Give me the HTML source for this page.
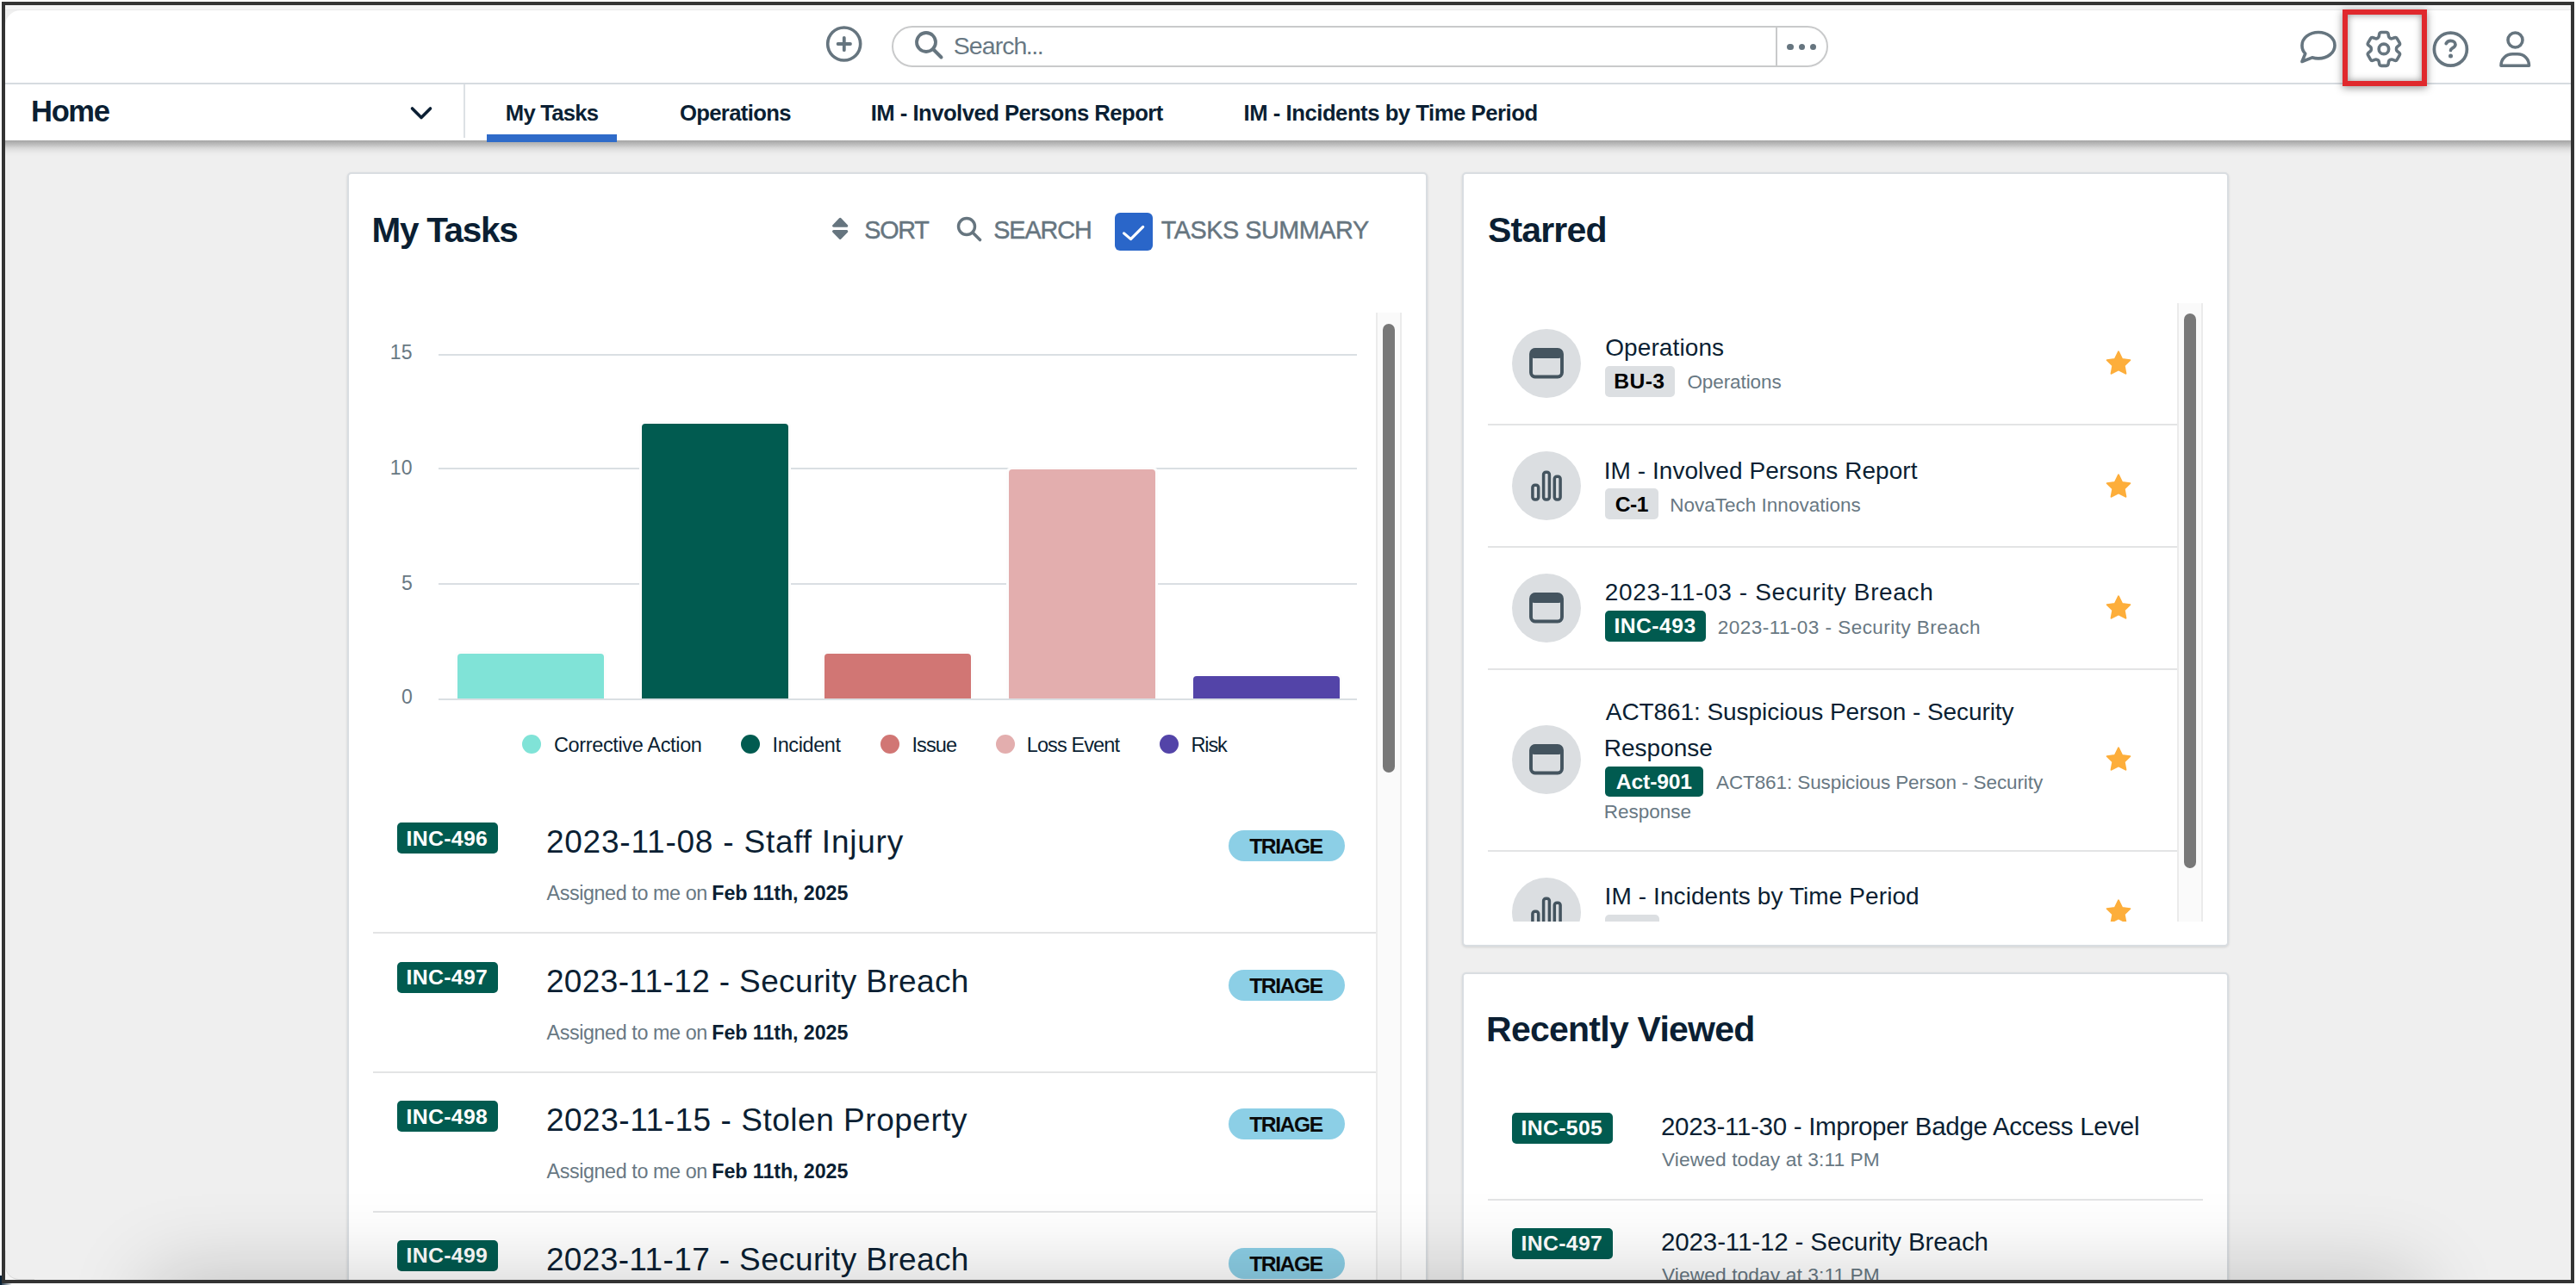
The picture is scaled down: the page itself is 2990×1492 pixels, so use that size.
<!DOCTYPE html><html><head><meta charset="utf-8"><style>
html,body{margin:0;padding:0}
body{width:2990px;height:1492px;position:relative;overflow:hidden;background:#fff;font-family:"Liberation Sans",sans-serif}
.t{position:absolute;line-height:1;white-space:nowrap}
.r{position:absolute;box-sizing:border-box}
svg{position:absolute;overflow:visible}
</style></head><body>
<div class="r" style="left:6.0px;top:6.0px;width:2978.0px;height:1480.0px;background:#efefef"></div>
<div class="r" style="left:6.0px;top:6.0px;width:2978.0px;height:6.0px;background:#f4f4f5"></div>
<div class="r" style="left:6.0px;top:11.0px;width:2978.0px;height:1.0px;background:#e9e9ea"></div>
<div class="r" style="left:6.0px;top:12.0px;width:2978.0px;height:85.0px;background:#fff;border-top-left-radius:18px"></div>
<div class="r" style="left:6.0px;top:98.0px;width:2978.0px;height:64.5px;background:#fff"></div>
<div class="r" style="left:6.0px;top:162.5px;width:2978.0px;height:19.5px;background:linear-gradient(to bottom, rgba(0,0,0,.31) 0%, rgba(0,0,0,.26) 13%, rgba(0,0,0,.19) 29%, rgba(0,0,0,.105) 45%, rgba(0,0,0,.05) 61%, rgba(0,0,0,.017) 79%, rgba(0,0,0,0) 100%)"></div>
<div class="r" style="left:6.0px;top:96.0px;width:2978.0px;height:2.0px;background:#d6dbe0"></div>
<div class="r" style="left:538.0px;top:98.0px;width:2.0px;height:62.0px;background:#dde1e5"></div>
<svg style="left:959px;top:30px" width="42" height="42" viewBox="0 0 42 42"><circle cx="20.7" cy="21" r="19" fill="none" stroke="#66757f" stroke-width="3.6"/><path d="M20.8 13.8v14.4M13.6 21h14.4" stroke="#66757f" stroke-width="3.8" stroke-linecap="round"/></svg>
<div class="r" style="left:1035.2px;top:29.9px;width:1086.8px;height:47.7px;border:2px solid #c9cacb;border-radius:24px;background:#fff"></div>
<div class="r" style="left:2061.0px;top:31.0px;width:2.0px;height:46.0px;background:#c9cacb"></div>
<svg style="left:1061px;top:35px" width="36" height="34" viewBox="0 0 36 34"><circle cx="14" cy="14" r="11" fill="none" stroke="#66757f" stroke-width="3.8"/><path d="M22 22l9.5 9.5" stroke="#66757f" stroke-width="4" stroke-linecap="round"/></svg>
<div class="t" style="left:1106.8px;top:39px;font-size:28.5px;color:#687883;letter-spacing:-0.94px;">Search</div>
<div class="t" style="left:1190.8px;top:39px;font-size:28.5px;color:#687883;letter-spacing:-1.40px;">...</div>
<div class="r" style="left:2074.2px;top:50.5px;width:7.6px;height:7.6px;border-radius:50%;background:#66757f"></div>
<div class="r" style="left:2087.5px;top:50.5px;width:7.6px;height:7.6px;border-radius:50%;background:#66757f"></div>
<div class="r" style="left:2100.5px;top:50.5px;width:7.6px;height:7.6px;border-radius:50%;background:#66757f"></div>
<svg style="left:2668px;top:34px" width="46" height="42" viewBox="0 0 46 42"><path d="M23 3.5c10.5 0 19 6.6 19 15.2s-8.5 15.2-19 15.2c-2.6 0-5-.4-7.3-1.1L4 37.5l3.8-9.3C5 25.6 4 22.3 4 18.7 4 10.1 12.5 3.5 23 3.5z" fill="none" stroke="#66757f" stroke-width="3.6" stroke-linejoin="round"/></svg>
<svg style="left:2740.6px;top:31.4px" width="51.84" height="51.84" viewBox="0 0 24 24"><path d="M9.594 3.94c.09-.542.56-.94 1.11-.94h2.593c.55 0 1.02.398 1.11.94l.213 1.281c.063.374.313.686.645.87.074.04.147.083.22.127.325.196.72.257 1.075.124l1.217-.456a1.125 1.125 0 0 1 1.37.49l1.296 2.247a1.125 1.125 0 0 1-.26 1.431l-1.003.827c-.293.241-.438.613-.43.992a7.723 7.723 0 0 1 0 .255c-.008.378.137.75.43.991l1.004.827c.424.35.534.955.26 1.43l-1.298 2.247a1.125 1.125 0 0 1-1.369.491l-1.217-.456c-.355-.133-.75-.072-1.076.124a6.470 6.470 0 0 1-.22.128c-.331.183-.581.495-.644.869l-.213 1.281c-.09.543-.56.94-1.110.94h-2.594c-.55 0-1.019-.398-1.11-.94l-.213-1.281c-.062-.374-.312-.686-.644-.87a6.520 6.520 0 0 1-.22-.127c-.325-.196-.72-.257-1.076-.124l-1.217.456a1.125 1.125 0 0 1-1.369-.49l-1.297-2.247a1.125 1.125 0 0 1 .26-1.431l1.004-.827c.292-.24.437-.613.43-.991a6.932 6.932 0 0 1 0-.255c.007-.38-.138-.751-.43-.992l-1.004-.827a1.125 1.125 0 0 1-.26-1.43l1.297-2.247a1.125 1.125 0 0 1 1.37-.491l1.216.456c.356.133.751.072 1.076-.124.072-.044.146-.086.22-.128.332-.183.582-.495.644-.869l.214-1.28Z" fill="none" stroke="#66757f" stroke-width="1.65" stroke-linejoin="round"/><circle cx="12" cy="12" r="2.65" fill="none" stroke="#66757f" stroke-width="1.7"/></svg>
<svg style="left:2823px;top:36px" width="43" height="43" viewBox="0 0 43 43"><circle cx="21.4" cy="21.2" r="19" fill="none" stroke="#66757f" stroke-width="3.7"/><path d="M16.2 14.6c.9-1.9 2.8-3.2 5.4-3.2 3.1 0 5.4 1.8 5.4 4.3 0 2.1-1.5 3.1-3.4 4.2-1.3.8-2.1 1.4-2.1 2.6" fill="none" stroke="#66757f" stroke-width="3.7" stroke-linecap="round" stroke-linejoin="round"/><circle cx="21.5" cy="29.1" r="2.5" fill="#66757f"/></svg>
<svg style="left:2900px;top:36px" width="40" height="43" viewBox="0 0 40 43"><circle cx="19.5" cy="10.5" r="8.5" fill="none" stroke="#66757f" stroke-width="3.6"/><path d="M3 40.3c0-8.2 6-13.5 13.5-13.5h5.5c7.5 0 13.5 5.3 13.5 13.5z" fill="none" stroke="#66757f" stroke-width="3.6" stroke-linejoin="round"/></svg>
<div class="r" style="left:2719.0px;top:11.0px;width:98.0px;height:88.5px;border:6px solid #e0292d;box-shadow:0 2px 9px rgba(0,0,0,0.42), inset 0 0 9px rgba(0,0,0,0.42)"></div>
<div class="t" style="left:36.1px;top:112px;font-size:34.5px;color:#0b1f33;font-weight:700;letter-spacing:-1.37px;">Home</div>
<svg style="left:476px;top:123px" width="26" height="17" viewBox="0 0 26 17"><path d="M2.5 3l10.5 10.5L23.5 3" fill="none" stroke="#0b1f33" stroke-width="3.6" stroke-linecap="round" stroke-linejoin="round"/></svg>
<div class="t" style="left:586.8px;top:119px;font-size:25.7px;color:#0b1f33;font-weight:700;letter-spacing:-0.80px;">My Tasks</div>
<div class="r" style="left:565.0px;top:156.0px;width:151.0px;height:8.5px;background:#2f6bc9"></div>
<div class="t" style="left:788.9px;top:119px;font-size:25.7px;color:#0b1f33;font-weight:700;letter-spacing:-0.67px;">Operations</div>
<div class="t" style="left:1010.7px;top:119px;font-size:25.7px;color:#0b1f33;font-weight:700;letter-spacing:-0.53px;">IM - Involved Persons Report</div>
<div class="t" style="left:1443.6px;top:119px;font-size:25.7px;color:#0b1f33;font-weight:700;letter-spacing:-0.48px;">IM - Incidents by Time Period</div>
<div class="r" style="left:403.0px;top:200.0px;width:1254.0px;height:1400.0px;background:#fff;border:2px solid #d9dde1;border-radius:5px;box-shadow:0 1px 3px rgba(0,0,0,0.12)"></div>
<div class="t" style="left:431.5px;top:247px;font-size:40.5px;color:#0b1f33;font-weight:700;letter-spacing:-1.29px;">My Tasks</div>
<svg style="left:960px;top:240px" width="40" height="50" viewBox="0 0 40 50"><path d="M15.2 14.3L7.6 22.2H22.8z M7.6 28.6H22.8L15.2 36.5z" fill="#66757f" stroke="#66757f" stroke-width="3" stroke-linejoin="round"/></svg>
<div class="t" style="left:1003.2px;top:253px;font-size:28.75px;color:#66757f;letter-spacing:-1.23px;-webkit-text-stroke:0.45px #66757f;">SORT</div>
<svg style="left:1110px;top:251px" width="31" height="30" viewBox="0 0 31 30"><circle cx="12" cy="12" r="9.5" fill="none" stroke="#66757f" stroke-width="3.4"/><path d="M19 19l8.5 8.5" stroke="#66757f" stroke-width="3.6" stroke-linecap="round"/></svg>
<div class="t" style="left:1153.2px;top:253px;font-size:28.75px;color:#66757f;letter-spacing:-1.04px;-webkit-text-stroke:0.45px #66757f;">SEARCH</div>
<div class="r" style="left:1294.0px;top:247.0px;width:44.0px;height:44.0px;background:#2a66c9;border-radius:6px"></div>
<svg style="left:1294px;top:247px" width="44" height="44" viewBox="0 0 44 44"><path d="M10.6 23.9L18.5 30.6L32.7 16.4" fill="none" stroke="#fff" stroke-width="3.2" stroke-linecap="round" stroke-linejoin="round"/></svg>
<div class="t" style="left:1347.7px;top:253px;font-size:28.75px;color:#66757f;letter-spacing:-0.43px;-webkit-text-stroke:0.45px #66757f;">TASKS SUMMARY</div>
<div class="r" style="left:509.0px;top:411.0px;width:1066.0px;height:2.0px;background:#dadfe3"></div>
<div class="t" style="left:452.8px;top:398px;font-size:23px;color:#687883;letter-spacing:0.10px;">15</div>
<div class="r" style="left:509.0px;top:543.1px;width:1066.0px;height:2.0px;background:#dadfe3"></div>
<div class="t" style="left:452.8px;top:532px;font-size:23px;color:#687883;letter-spacing:0.10px;">10</div>
<div class="r" style="left:509.0px;top:677.0px;width:1066.0px;height:2.0px;background:#dadfe3"></div>
<div class="t" style="left:465.9px;top:666px;font-size:23px;color:#687883;">5</div>
<div class="r" style="left:509.0px;top:811.0px;width:1066.0px;height:2.0px;background:#dadfe3"></div>
<div class="t" style="left:465.9px;top:798px;font-size:23px;color:#687883;">0</div>
<div class="r" style="left:528.0px;top:755.7px;width:176.0px;height:55.3px;background:#fdfdfd;border-radius:6px 6px 0 0"></div>
<div class="r" style="left:531.0px;top:758.7px;width:170.0px;height:52.3px;background:#80e3d7;border-radius:4px 4px 0 0"></div>
<div class="r" style="left:742.0px;top:489.0px;width:176.0px;height:322.0px;background:#fdfdfd;border-radius:6px 6px 0 0"></div>
<div class="r" style="left:745.0px;top:492.0px;width:170.0px;height:319.0px;background:#015b50;border-radius:4px 4px 0 0"></div>
<div class="r" style="left:954.0px;top:755.7px;width:176.0px;height:55.3px;background:#fdfdfd;border-radius:6px 6px 0 0"></div>
<div class="r" style="left:957.0px;top:758.7px;width:170.0px;height:52.3px;background:#d17674;border-radius:4px 4px 0 0"></div>
<div class="r" style="left:1168.0px;top:542.3px;width:176.0px;height:268.7px;background:#fdfdfd;border-radius:6px 6px 0 0"></div>
<div class="r" style="left:1171.0px;top:545.3px;width:170.0px;height:265.7px;background:#e3aeae;border-radius:4px 4px 0 0"></div>
<div class="r" style="left:1382.0px;top:782.3px;width:176.0px;height:28.7px;background:#fdfdfd;border-radius:6px 6px 0 0"></div>
<div class="r" style="left:1385.0px;top:785.3px;width:170.0px;height:25.7px;background:#5344a8;border-radius:4px 4px 0 0"></div>
<div class="r" style="left:605.9px;top:852.8px;width:22.0px;height:22.0px;border-radius:50%;background:#80e3d7"></div>
<div class="t" style="left:642.9px;top:854px;font-size:23.5px;color:#0b1f33;letter-spacing:-0.35px;">Corrective Action</div>
<div class="r" style="left:860.1px;top:852.8px;width:22.0px;height:22.0px;border-radius:50%;background:#015b50"></div>
<div class="t" style="left:896.6px;top:854px;font-size:23.5px;color:#0b1f33;letter-spacing:-0.41px;">Incident</div>
<div class="r" style="left:1022.0px;top:852.8px;width:22.0px;height:22.0px;border-radius:50%;background:#d17674"></div>
<div class="t" style="left:1058.4px;top:854px;font-size:23.5px;color:#0b1f33;letter-spacing:-0.85px;">Issue</div>
<div class="r" style="left:1155.5px;top:852.8px;width:22.0px;height:22.0px;border-radius:50%;background:#e3aeae"></div>
<div class="t" style="left:1191.7px;top:854px;font-size:23.5px;color:#0b1f33;letter-spacing:-0.88px;">Loss Event</div>
<div class="r" style="left:1346.0px;top:852.8px;width:22.0px;height:22.0px;border-radius:50%;background:#5344a8"></div>
<div class="t" style="left:1382.4px;top:854px;font-size:23.5px;color:#0b1f33;letter-spacing:-1.07px;">Risk</div>
<div class="r" style="left:461.0px;top:955.0px;width:117.0px;height:36.0px;background:#015b50;border-radius:5px"></div>
<div class="t" style="left:471.5px;top:962px;font-size:24.8px;color:#fff;font-weight:700;letter-spacing:0.33px;">INC-496</div>
<div class="t" style="left:633.9px;top:959px;font-size:37px;color:#0b1f33;letter-spacing:0.78px;">2023-11-08 - Staff Injury</div>
<div class="t" style="left:634.5px;top:1026px;font-size:23.3px;color:#687883;letter-spacing:-0.39px;">Assigned to me on</div>
<div class="t" style="left:826.3px;top:1026px;font-size:23.3px;color:#0b1f33;font-weight:700;letter-spacing:-0.09px;">Feb 11th, 2025</div>
<div class="r" style="left:1426.0px;top:964.2px;width:135.0px;height:36.0px;border-radius:18px;background:#8ccfe6"></div>
<div class="t" style="left:1450.2px;top:971px;font-size:24.6px;color:#0a0a0a;font-weight:700;letter-spacing:-1.40px;">TRIAGE</div>
<div class="r" style="left:433.0px;top:1081.5px;width:1164.0px;height:2.0px;background:#e3e4e5"></div>
<div class="r" style="left:461.0px;top:1116.6px;width:117.0px;height:36.0px;background:#015b50;border-radius:5px"></div>
<div class="t" style="left:471.5px;top:1123px;font-size:24.8px;color:#fff;font-weight:700;letter-spacing:0.33px;">INC-497</div>
<div class="t" style="left:633.9px;top:1121px;font-size:37px;color:#0b1f33;letter-spacing:0.37px;">2023-11-12 - Security Breach</div>
<div class="t" style="left:634.5px;top:1188px;font-size:23.3px;color:#687883;letter-spacing:-0.39px;">Assigned to me on</div>
<div class="t" style="left:826.3px;top:1188px;font-size:23.3px;color:#0b1f33;font-weight:700;letter-spacing:-0.09px;">Feb 11th, 2025</div>
<div class="r" style="left:1426.0px;top:1125.8px;width:135.0px;height:36.0px;border-radius:18px;background:#8ccfe6"></div>
<div class="t" style="left:1450.2px;top:1133px;font-size:24.6px;color:#0a0a0a;font-weight:700;letter-spacing:-1.40px;">TRIAGE</div>
<div class="r" style="left:433.0px;top:1243.6px;width:1164.0px;height:2.0px;background:#e3e4e5"></div>
<div class="r" style="left:461.0px;top:1278.2px;width:117.0px;height:36.0px;background:#015b50;border-radius:5px"></div>
<div class="t" style="left:471.5px;top:1285px;font-size:24.8px;color:#fff;font-weight:700;letter-spacing:0.33px;">INC-498</div>
<div class="t" style="left:633.9px;top:1282px;font-size:37px;color:#0b1f33;letter-spacing:0.53px;">2023-11-15 - Stolen Property</div>
<div class="t" style="left:634.5px;top:1349px;font-size:23.3px;color:#687883;letter-spacing:-0.39px;">Assigned to me on</div>
<div class="t" style="left:826.3px;top:1349px;font-size:23.3px;color:#0b1f33;font-weight:700;letter-spacing:-0.09px;">Feb 11th, 2025</div>
<div class="r" style="left:1426.0px;top:1287.4px;width:135.0px;height:36.0px;border-radius:18px;background:#8ccfe6"></div>
<div class="t" style="left:1450.2px;top:1294px;font-size:24.6px;color:#0a0a0a;font-weight:700;letter-spacing:-1.40px;">TRIAGE</div>
<div class="r" style="left:433.0px;top:1405.7px;width:1164.0px;height:2.0px;background:#e3e4e5"></div>
<div class="r" style="left:461.0px;top:1439.8px;width:117.0px;height:36.0px;background:#015b50;border-radius:5px"></div>
<div class="t" style="left:471.5px;top:1446px;font-size:24.8px;color:#fff;font-weight:700;letter-spacing:0.33px;">INC-499</div>
<div class="t" style="left:633.9px;top:1444px;font-size:37px;color:#0b1f33;letter-spacing:0.37px;">2023-11-17 - Security Breach</div>
<div class="t" style="left:634.5px;top:1511px;font-size:23.3px;color:#687883;letter-spacing:-0.39px;">Assigned to me on</div>
<div class="t" style="left:826.3px;top:1511px;font-size:23.3px;color:#0b1f33;font-weight:700;letter-spacing:-0.09px;">Feb 11th, 2025</div>
<div class="r" style="left:1426.0px;top:1449.0px;width:135.0px;height:36.0px;border-radius:18px;background:#8ccfe6"></div>
<div class="t" style="left:1450.2px;top:1456px;font-size:24.6px;color:#0a0a0a;font-weight:700;letter-spacing:-1.40px;">TRIAGE</div>
<div class="r" style="left:433.0px;top:1567.8px;width:1164.0px;height:2.0px;background:#e3e4e5"></div>
<div class="r" style="left:1597.0px;top:362.7px;width:30.0px;height:1123.3px;background:#fafafa;border-left:2px solid #ebebeb;border-right:2px solid #ebebeb"></div>
<div class="r" style="left:1604.6px;top:375.5px;width:14.0px;height:521.5px;background:#787878;border-radius:7px"></div>
<div class="r" style="left:1697.0px;top:200.0px;width:890.0px;height:899.0px;background:#fff;border:2px solid #d9dde1;border-radius:5px;box-shadow:0 1px 3px rgba(0,0,0,0.12)"></div>
<div class="t" style="left:1727.1px;top:247px;font-size:41px;color:#0b1f33;font-weight:700;letter-spacing:-0.87px;">Starred</div>
<div class="r" style="left:0;top:0;width:2990px;height:1070px;overflow:hidden">
<div class="r" style="left:1755.0px;top:382.0px;width:80.0px;height:80.0px;border-radius:50%;background:#dbdee1"></div>
<svg style="left:1775px;top:404.0px" width="40" height="36" viewBox="0 0 40 36"><rect x="2" y="2" width="36" height="31.5" rx="5" fill="none" stroke="#44545f" stroke-width="3.9"/><rect x="2" y="2" width="36" height="10" rx="4" fill="#44545f"/></svg>
<div class="t" style="left:1863.2px;top:390px;font-size:28px;color:#0b1f33;letter-spacing:0.10px;">Operations</div>
<div class="r" style="left:1863.0px;top:424.8px;width:80.8px;height:35.9px;background:#dcdfe2;border-radius:5px"></div>
<div class="t" style="left:1873.2px;top:431px;font-size:24.7px;color:#000;font-weight:700;letter-spacing:0.43px;">BU-3</div>
<div class="t" style="left:1958.4px;top:433px;font-size:22.5px;color:#687883;letter-spacing:-0.09px;">Operations</div>
<svg style="left:2442.5px;top:405.5px" width="32" height="32" viewBox="0 0 24 24"><path d="M12 1.8l3.1 6.4 6.9.9-5 4.8 1.3 6.9L12 17.5l-6.3 3.3L7 13.9 2 9.1l6.9-.9z" fill="#fdae3b" stroke="#fdae3b" stroke-width="1.5" stroke-linejoin="round"/></svg>
<div class="r" style="left:1727.0px;top:492.0px;width:800.0px;height:2.0px;background:#e3e4e5"></div>
<div class="r" style="left:1755.0px;top:523.8px;width:80.0px;height:80.0px;border-radius:50%;background:#dbdee1"></div>
<svg style="left:1776px;top:544.8px" width="38" height="38" viewBox="0 0 38 38"><rect x="2.9" y="18.2" width="6.8" height="16.8" rx="2.8" fill="none" stroke="#44545f" stroke-width="3.5"/><rect x="15.6" y="3.2" width="6.8" height="31.8" rx="2.8" fill="none" stroke="#44545f" stroke-width="3.5"/><rect x="28.3" y="8.2" width="6.8" height="26.8" rx="2.8" fill="none" stroke="#44545f" stroke-width="3.5"/></svg>
<div class="t" style="left:1861.8px;top:533px;font-size:28px;color:#0b1f33;letter-spacing:0.04px;">IM - Involved Persons Report</div>
<div class="r" style="left:1863.0px;top:567.4px;width:62.4px;height:35.2px;background:#dcdfe2;border-radius:5px"></div>
<div class="t" style="left:1874.8px;top:574px;font-size:24.7px;color:#000;font-weight:700;letter-spacing:-0.57px;">C-1</div>
<div class="t" style="left:1938.3px;top:576px;font-size:22.5px;color:#687883;">NovaTech Innovations</div>
<svg style="left:2442.5px;top:548.5px" width="32" height="32" viewBox="0 0 24 24"><path d="M12 1.8l3.1 6.4 6.9.9-5 4.8 1.3 6.9L12 17.5l-6.3 3.3L7 13.9 2 9.1l6.9-.9z" fill="#fdae3b" stroke="#fdae3b" stroke-width="1.5" stroke-linejoin="round"/></svg>
<div class="r" style="left:1727.0px;top:634.0px;width:800.0px;height:2.0px;background:#e3e4e5"></div>
<div class="r" style="left:1755.0px;top:665.8px;width:80.0px;height:80.0px;border-radius:50%;background:#dbdee1"></div>
<svg style="left:1775px;top:687.8px" width="40" height="36" viewBox="0 0 40 36"><rect x="2" y="2" width="36" height="31.5" rx="5" fill="none" stroke="#44545f" stroke-width="3.9"/><rect x="2" y="2" width="36" height="10" rx="4" fill="#44545f"/></svg>
<div class="t" style="left:1862.8px;top:674px;font-size:28px;color:#0b1f33;letter-spacing:0.64px;">2023-11-03 - Security Breach</div>
<div class="r" style="left:1863.0px;top:709.2px;width:116.7px;height:35.5px;background:#015b50;border-radius:5px"></div>
<div class="t" style="left:1873.4px;top:715px;font-size:24.7px;color:#fff;font-weight:700;letter-spacing:0.47px;">INC-493</div>
<div class="t" style="left:1993.8px;top:718px;font-size:22.5px;color:#687883;letter-spacing:0.46px;">2023-11-03 - Security Breach</div>
<svg style="left:2442.5px;top:690.0px" width="32" height="32" viewBox="0 0 24 24"><path d="M12 1.8l3.1 6.4 6.9.9-5 4.8 1.3 6.9L12 17.5l-6.3 3.3L7 13.9 2 9.1l6.9-.9z" fill="#fdae3b" stroke="#fdae3b" stroke-width="1.5" stroke-linejoin="round"/></svg>
<div class="r" style="left:1727.0px;top:775.5px;width:800.0px;height:2.0px;background:#e3e4e5"></div>
<div class="r" style="left:1755.0px;top:842.0px;width:80.0px;height:80.0px;border-radius:50%;background:#dbdee1"></div>
<svg style="left:1775px;top:864.0px" width="40" height="36" viewBox="0 0 40 36"><rect x="2" y="2" width="36" height="31.5" rx="5" fill="none" stroke="#44545f" stroke-width="3.9"/><rect x="2" y="2" width="36" height="10" rx="4" fill="#44545f"/></svg>
<div class="t" style="left:1863.8px;top:813px;font-size:28px;color:#0b1f33;letter-spacing:-0.07px;">ACT861: Suspicious Person - Security</div>
<div class="t" style="left:1861.8px;top:855px;font-size:28px;color:#0b1f33;">Response</div>
<div class="r" style="left:1863.0px;top:890.2px;width:113.8px;height:35.2px;background:#015b50;border-radius:5px"></div>
<div class="t" style="left:1875.8px;top:896px;font-size:24.7px;color:#fff;font-weight:700;letter-spacing:-0.15px;">Act-901</div>
<div class="t" style="left:1992.0px;top:898px;font-size:22.5px;color:#687883;letter-spacing:-0.10px;">ACT861: Suspicious Person - Security</div>
<div class="t" style="left:1861.8px;top:932px;font-size:22.5px;color:#687883;">Response</div>
<svg style="left:2442.5px;top:866.0px" width="32" height="32" viewBox="0 0 24 24"><path d="M12 1.8l3.1 6.4 6.9.9-5 4.8 1.3 6.9L12 17.5l-6.3 3.3L7 13.9 2 9.1l6.9-.9z" fill="#fdae3b" stroke="#fdae3b" stroke-width="1.5" stroke-linejoin="round"/></svg>
<div class="r" style="left:1727.0px;top:987.0px;width:800.0px;height:2.0px;background:#e3e4e5"></div>
<div class="r" style="left:1755.0px;top:1019.0px;width:80.0px;height:80.0px;border-radius:50%;background:#dbdee1"></div>
<svg style="left:1776px;top:1040.0px" width="38" height="38" viewBox="0 0 38 38"><rect x="2.9" y="18.2" width="6.8" height="16.8" rx="2.8" fill="none" stroke="#44545f" stroke-width="3.5"/><rect x="15.6" y="3.2" width="6.8" height="31.8" rx="2.8" fill="none" stroke="#44545f" stroke-width="3.5"/><rect x="28.3" y="8.2" width="6.8" height="26.8" rx="2.8" fill="none" stroke="#44545f" stroke-width="3.5"/></svg>
<div class="t" style="left:1862.6px;top:1027px;font-size:28px;color:#0b1f33;letter-spacing:0.09px;">IM - Incidents by Time Period</div>
<div class="r" style="left:1863.0px;top:1062.0px;width:63.0px;height:36.0px;background:#dcdfe2;border-radius:5px"></div>
<svg style="left:2442.5px;top:1043.0px" width="32" height="32" viewBox="0 0 24 24"><path d="M12 1.8l3.1 6.4 6.9.9-5 4.8 1.3 6.9L12 17.5l-6.3 3.3L7 13.9 2 9.1l6.9-.9z" fill="#fdae3b" stroke="#fdae3b" stroke-width="1.5" stroke-linejoin="round"/></svg>
</div>
<div class="r" style="left:2527.0px;top:351.8px;width:30.0px;height:718.2px;background:#fafafa;border-left:2px solid #ebebeb;border-right:2px solid #ebebeb"></div>
<div class="r" style="left:2535.0px;top:363.7px;width:14.0px;height:644.8px;background:#787878;border-radius:7px"></div>
<div class="r" style="left:1697.0px;top:1129.0px;width:890.0px;height:571.0px;background:#fff;border:2px solid #d9dde1;border-radius:5px;box-shadow:0 1px 3px rgba(0,0,0,0.12)"></div>
<div class="t" style="left:1725.1px;top:1175px;font-size:41px;color:#0b1f33;font-weight:700;letter-spacing:-0.76px;">Recently Viewed</div>
<div class="r" style="left:1755.0px;top:1292.0px;width:117.0px;height:35.6px;background:#015b50;border-radius:5px"></div>
<div class="t" style="left:1765.5px;top:1298px;font-size:24.8px;color:#fff;font-weight:700;letter-spacing:0.33px;">INC-505</div>
<div class="t" style="left:1928.0px;top:1293px;font-size:29.5px;color:#0b1f33;letter-spacing:-0.29px;">2023-11-30 - Improper Badge Access Level</div>
<div class="t" style="left:1929.0px;top:1335px;font-size:22.75px;color:#687883;letter-spacing:0.09px;">Viewed today at 3:11 PM</div>
<div class="r" style="left:1755.0px;top:1426.0px;width:117.0px;height:35.6px;background:#015b50;border-radius:5px"></div>
<div class="t" style="left:1765.5px;top:1432px;font-size:24.8px;color:#fff;font-weight:700;letter-spacing:0.33px;">INC-497</div>
<div class="t" style="left:1928.0px;top:1427px;font-size:29.5px;color:#0b1f33;letter-spacing:-0.12px;">2023-11-12 - Security Breach</div>
<div class="t" style="left:1929.0px;top:1469px;font-size:22.75px;color:#687883;letter-spacing:0.09px;">Viewed today at 3:11 PM</div>
<div class="r" style="left:1727.0px;top:1391.6px;width:830.0px;height:2.0px;background:#e3e4e5"></div>
<div class="r" style="left:6px;top:1300px;width:2978px;height:186px;overflow:hidden"><div class="r" style="left:175px;top:186px;width:2620px;height:300px;box-shadow:0 0 90px 6px rgba(0,0,0,0.19)"></div></div>
<div class="r" style="left:6.0px;top:1468.0px;width:20.0px;height:18.0px;background:#f7f7f7"></div>
<div class="r" style="left:6.0px;top:1452.0px;width:34.0px;height:34.0px;background:#efefef;border-bottom-left-radius:16px;border-left:1px solid #e2e2e2;border-bottom:1px solid #dadada"></div>
<div class="r" style="left:0.0px;top:0.0px;width:2990.0px;height:1492.0px;border:2px solid #fff"></div>
<div class="r" style="left:0.0px;top:1481.0px;width:2.0px;height:11.0px;background:#0a2236"></div>
<div class="r" style="left:0.0px;top:1490.0px;width:14.0px;height:2.0px;background:linear-gradient(to right,#0a2236,rgba(10,34,54,0))"></div>
<div class="r" style="left:2.0px;top:2.0px;width:2986.0px;height:1488.0px;border:4px solid #333"></div>
</body></html>
